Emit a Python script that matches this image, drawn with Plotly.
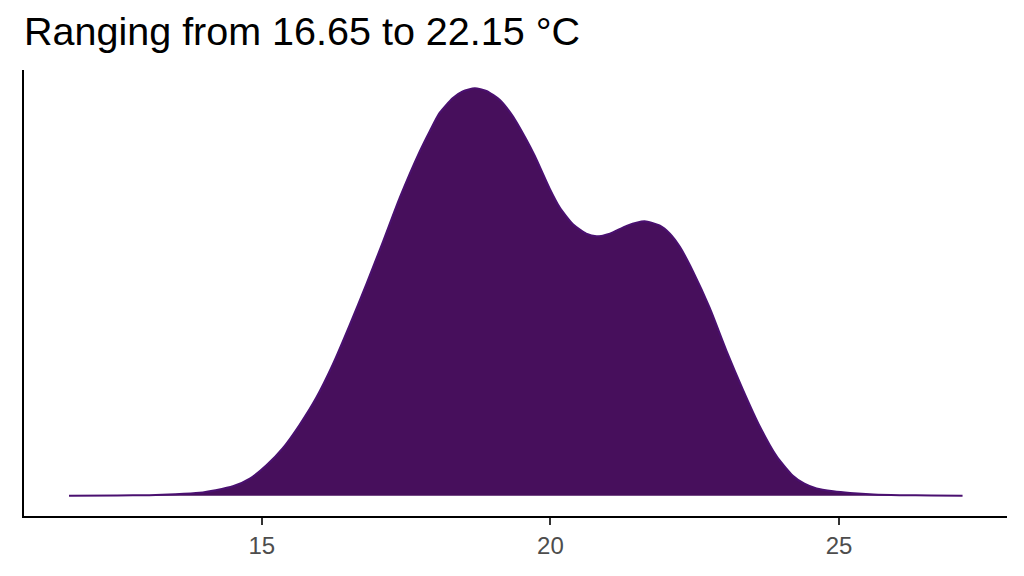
import plotly.graph_objects as go

temperature = [11.66, 12.5, 13.05, 13.5, 13.92, 14.2, 14.5, 14.8, 15.08, 15.36, 15.65, 15.94,
               16.23, 16.52, 16.81, 17.10, 17.39, 17.73, 17.91, 18.08, 18.31, 18.48, 18.69,
               18.89, 19.12, 19.35, 19.58, 19.73, 19.99, 20.16, 20.39, 20.62, 20.80, 21.03,
               21.32, 21.63, 21.89, 22.07, 22.24, 22.47, 22.76, 23.05, 23.34, 23.63, 23.92,
               24.20, 24.40, 24.61, 24.9, 25.19, 25.6, 26.05, 26.6, 27.14]
density = [0.0000, 0.0001, 0.0002, 0.0006, 0.0013, 0.0025, 0.0043, 0.0080, 0.0140, 0.0218,
           0.0325, 0.0450, 0.0605, 0.0785, 0.0975, 0.1172, 0.1375, 0.1585, 0.1682, 0.1766,
           0.1835, 0.1865, 0.1880, 0.1868, 0.1827, 0.1750, 0.1644, 0.1567, 0.1415, 0.1330,
           0.1252, 0.1209, 0.1197, 0.1209, 0.1245, 0.1266, 0.1247, 0.1209, 0.1149, 0.1035,
           0.0866, 0.0668, 0.0486, 0.0318, 0.0181, 0.0092, 0.0055, 0.0033, 0.0020, 0.0012,
           0.0005, 0.0002, 0.0001, 0.0000]
x_ticks = [15, 20, 25]
title_text = "Ranging from 16.65 to 22.15 °C"

fig = go.Figure()
fig.add_trace(go.Scatter(
    x=temperature, y=density, mode="lines",
    line=dict(color="#4A1070", width=2, shape="spline", smoothing=0.6),
    fill="tozeroy", fillcolor="#470F5C", hoverinfo="skip", showlegend=False,
))

fig.update_layout(
    width=1008, height=560,
    margin=dict(l=16, r=9, t=62, b=48),
    paper_bgcolor="white", plot_bgcolor="white",
    font=dict(family="Liberation Sans, Arial, sans-serif"),
    title=dict(text=title_text, xref="container", yref="container",
               x=0.0159, xanchor="left", y=0.958, yanchor="middle",
               font=dict(size=39.5, color="black", family="Liberation Sans, Arial, sans-serif")),
    xaxis=dict(range=[10.88, 27.91], tickvals=x_ticks, ticktext=[str(t) for t in x_ticks],
               showgrid=False, zeroline=False, showline=True, linecolor="black", linewidth=2,
               ticks="outside", ticklen=7, tickwidth=2, tickcolor="#333333",
               tickfont=dict(size=24, color="#4D4D4D")),
    yaxis=dict(range=[-0.0094, 0.1964], showgrid=False, zeroline=False, showline=True,
               linecolor="black", linewidth=2, showticklabels=False, ticks=""),
)

fig.write_html("out.html")
